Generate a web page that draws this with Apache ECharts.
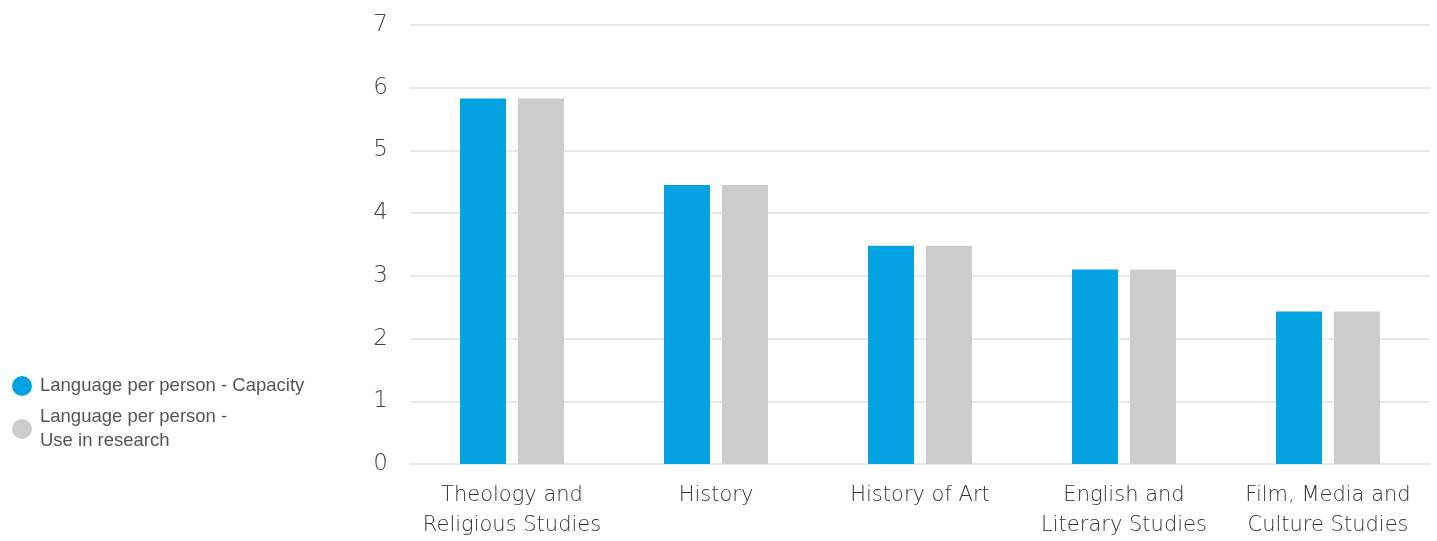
<!DOCTYPE html>
<html><head><meta charset="utf-8">
<script src="https://cdn.jsdelivr.net/npm/echarts@6/dist/echarts.min.js"></script>
<style>html,body{margin:0;padding:0;background:#fff}#c{width:1437px;height:541px}</style>
</head><body><div id="c"></div>
<script>
const categories = ["Theology and\nReligious Studies", "History", "History of Art", "English and\nLiterary Studies", "Film, Media and\nCulture Studies"];
const capacity = [5.83, 4.45, 3.48, 3.10, 2.43];
const useInResearch = [5.83, 4.45, 3.48, 3.10, 2.43];
const seriesNames = ["Language per person - Capacity", "Language per person -\nUse in research"];
const yTicks = [0, 1, 2, 3, 4, 5, 6, 7];

const chart = echarts.init(document.getElementById('c'), null, {renderer: 'canvas'});
const font = '"DejaVu Sans", "Liberation Sans", sans-serif';
const legendFont = '"Liberation Sans", Arial, sans-serif';
chart.setOption({
  animation: false,
  textStyle: {fontFamily: font},
  legend: {
    orient: 'vertical', left: 7, top: 369,
    icon: 'circle', itemWidth: 20, itemHeight: 20, itemGap: 7,
    textStyle: {fontSize: 18.5, color: '#555', fontFamily: legendFont, lineHeight: 24, padding: [0, 0, 0, 3]},
    data: seriesNames
  },
  grid: {left: 410, right: 7, top: 25, bottom: 76, containLabel: false},
  xAxis: {
    type: 'category', data: categories,
    axisLine: {show: false}, axisTick: {show: false},
    axisLabel: {fontSize: 21, color: '#333', fontWeight: 200, margin: 17, lineHeight: 30, interval: 0, fontFamily: font}
  },
  yAxis: {
    type: 'value', min: yTicks[0], max: yTicks[yTicks.length - 1], interval: 1,
    axisLine: {show: false}, axisTick: {show: false},
    axisLabel: {fontSize: 23, color: '#444', fontWeight: 200, margin: 22, fontFamily: font},
    splitLine: {lineStyle: {color: '#e0e0e0', width: 1.5}}
  },
  series: [
    {name: seriesNames[0], type: 'bar', data: capacity, barWidth: 46, barGap: '26%', itemStyle: {color: '#02a3e0'}},
    {name: seriesNames[1], type: 'bar', data: useInResearch, barWidth: 46, itemStyle: {color: '#cccccc'}}
  ]
});
</script></body></html>
